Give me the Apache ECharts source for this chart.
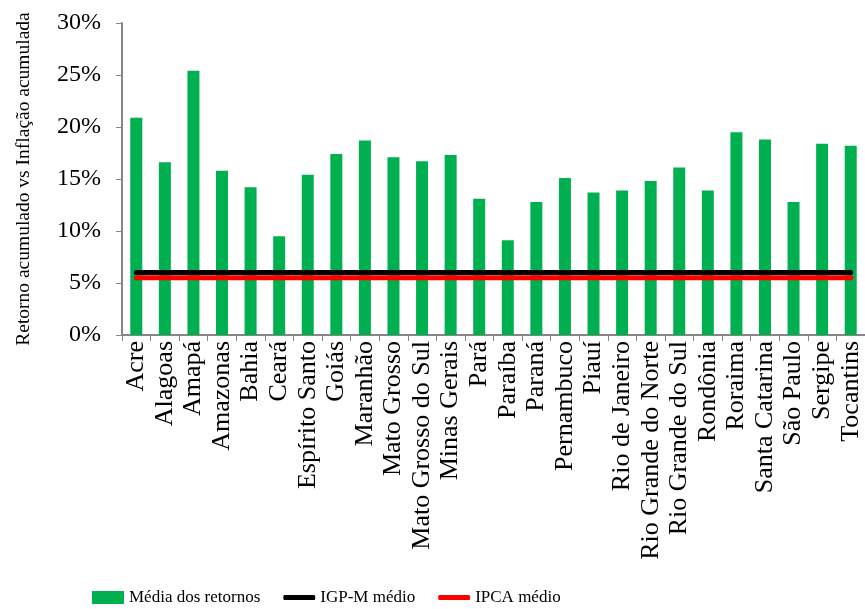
<!DOCTYPE html>
<html>
<head>
<meta charset="utf-8">
<style>
  html, body { margin: 0; padding: 0; background: #fff; }
  #chart { width: 865px; height: 609px; }
</style>
<script src="https://cdn.jsdelivr.net/npm/echarts@6/dist/echarts.min.js"></script>
</head>
<body>
<div id="chart"></div>
<script>
// estados
var estados = ['Acre', 'Alagoas', 'Amapá', 'Amazonas', 'Bahia', 'Ceará', 'Espírito Santo', 'Goiás',
  'Maranhão', 'Mato Grosso', 'Mato Grosso do Sul', 'Minas Gerais', 'Pará', 'Paraíba', 'Paraná',
  'Pernambuco', 'Piauí', 'Rio de Janeiro', 'Rio Grande do Norte', 'Rio Grande do Sul', 'Rondônia',
  'Roraima', 'Santa Catarina', 'São Paulo', 'Sergipe', 'Tocantins'];
// média dos retornos (%)
var retornos = [20.9, 16.6, 25.4, 15.8, 14.2, 9.5, 15.4, 17.4, 18.7, 17.1, 16.7, 17.3, 13.1, 9.1, 12.8,
  15.1, 13.7, 13.9, 14.8, 16.1, 13.9, 19.5, 18.8, 12.8, 18.4, 18.2];
// inflação acumulada média (%)
var igpm = 6.0;
var ipca = 5.5;

var igpmData = estados.map(function () { return igpm; });
var ipcaData = estados.map(function () { return ipca; });

var font = 'Liberation Serif';
// icone de linha grossa para a legenda (caixa 32x13)
var lineIcon = 'path://M0,0L0,0.01M1,4L31,4Q32,4 32,6.5Q32,9 31,9L1,9Q0,9 0,6.5Q0,4 1,4ZM32,13L32,12.99';

var chart = echarts.init(document.getElementById('chart'));
chart.setOption({
  animation: false,
  textStyle: { fontFamily: font },
  grid: { left: 122, right: 0, top: 23, bottom: 274 },
  legend: {
    top: 584,
    left: 87,
    itemGap: 23,
    itemWidth: 32,
    itemHeight: 13,
    textStyle: { fontFamily: font, fontSize: 17, color: '#000' },
    data: [
      { name: 'Média dos retornos', icon: 'rect' },
      { name: 'IGP-M médio', icon: lineIcon },
      { name: 'IPCA médio', icon: lineIcon }
    ]
  },
  xAxis: {
    type: 'category',
    data: estados,
    axisLine: { lineStyle: { color: '#868686', width: 2 } },
    axisTick: { show: true, length: 6, lineStyle: { color: '#868686' } },
    axisLabel: {
      rotate: 90,
      interval: 0,
      color: '#000',
      fontFamily: font,
      fontSize: 26,
      margin: 6
    }
  },
  yAxis: {
    type: 'value',
    min: 0,
    max: 30,
    interval: 5,
    name: 'Retorno acumulado vs Inflação acumulada',
    nameLocation: 'middle',
    nameGap: 88,
    nameTextStyle: { fontFamily: font, fontSize: 19.5, color: '#000' },
    axisLine: { show: true, lineStyle: { color: '#868686', width: 2 } },
    axisTick: { show: true, length: 6, lineStyle: { color: '#868686' } },
    splitLine: { show: false },
    axisLabel: {
      formatter: '{value}%',
      color: '#000',
      fontFamily: font,
      fontSize: 24,
      margin: 21
    }
  },
  series: [
    {
      name: 'Média dos retornos',
      type: 'bar',
      data: retornos,
      barWidth: 12,
      itemStyle: { color: '#00B050' }
    },
    {
      name: 'IGP-M médio',
      type: 'line',
      data: igpmData,
      symbol: 'none',
      z: 3,
      lineStyle: { color: '#000', width: 5, cap: 'round' },
      itemStyle: { color: '#000' }
    },
    {
      name: 'IPCA médio',
      type: 'line',
      data: ipcaData,
      symbol: 'none',
      z: 4,
      lineStyle: { color: '#FF0000', width: 5, cap: 'round' },
      itemStyle: { color: '#FF0000' }
    }
  ]
});
</script>
</body>
</html>
